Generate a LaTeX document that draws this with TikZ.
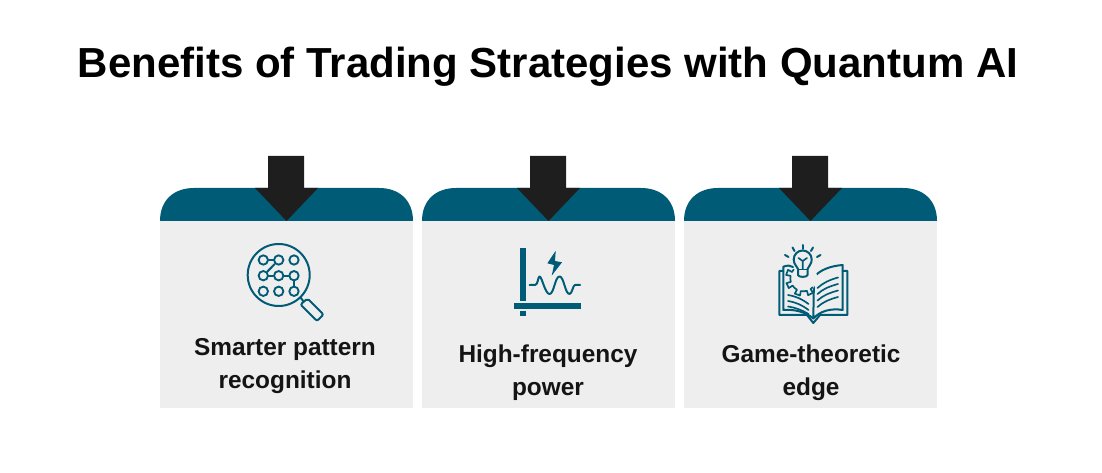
\documentclass[tikz,border=0pt]{standalone}
\usepackage{fontspec}
\setmainfont{Liberation Sans}
\definecolor{teal}{HTML}{005B76}
\definecolor{cardgrey}{HTML}{EEEEEE}
\definecolor{arrowblack}{HTML}{1E1E1E}
\tikzset{
  title/.style={font=\fontsize{31.5}{36}\selectfont\bfseries, text=black, inner sep=0pt},
  label/.style={font=\fontsize{18.3}{24.6}\selectfont\bfseries, text=black!92, align=center, inner sep=0pt},
  icon/.style={draw=teal, line width=1.5pt, line cap=round, line join=round},
  iconthin/.style={draw=teal, line width=1.25pt, line cap=round, line join=round},
  dot/.style={circle, draw=teal, line width=1.4pt, minimum size=7pt, inner sep=0pt, fill=cardgrey}
}
\begin{document}
\begin{tikzpicture}[x=0.75pt,y=-0.75pt]
\useasboundingbox (0,0) rectangle (1102,473);
\node[title] (head) at (548,66.5) {Benefits of Trading Strategies with Quantum AI};
\foreach \x in {160,422,684} {
  \fill[cardgrey] (\x,221) rectangle ++(253,187);
  \fill[teal] (\x,221) .. controls (\x,200) and (\x+14,188) .. (\x+34,188) -- (\x+219,188) .. controls (\x+239,188) and (\x+253,200) .. (\x+253,221) -- cycle;
  \fill[arrowblack] (\x+108,156) -- (\x+144,156) -- (\x+144,188) -- (\x+158,188) -- (\x+126.5,221) -- (\x+95,188) -- (\x+108,188) -- cycle;
}
\node[label] (l1) at (285,366) {Smarter pattern\\recognition};
\node[label] (l2) at (548,373) {High-frequency\\power};
\node[label] (l3) at (811,373) {Game-theoretic\\edge};
% magnifier
\draw[icon] (278.7,275) circle (31);
\draw[icon] (300.5,297.5) -- (303.5,301.5);
\draw[icon, rounded corners=1.5pt] (307.5,298.5) -- (323.5,314.5) -- (317,321) -- (300.5,304.5) -- cycle;
\node[dot] (p00) at (263.3,260) {};
\node[dot] (p10) at (278.7,260) {};
\node[dot] (p20) at (294,260) {};
\node[dot] (p01) at (263.3,275.7) {};
\node[dot] (p11) at (278.7,275.7) {};
\node[dot] (p21) at (294,275.7) {};
\node[dot] (p02) at (263.3,291.3) {};
\node[dot] (p12) at (278.7,291.3) {};
\node[dot] (p22) at (294,291.3) {};
\draw[icon] (p00) -- (p10);
\draw[icon] (p10) -- (p01);
\draw[icon] (p01) -- (p11);
\draw[icon] (p11) -- (p21);
\draw[icon] (p21) -- (p22);
% chart
\fill[teal] (520.3,248.3) rectangle (525.7,301.5);
\fill[teal] (514,303.3) rectangle (581.3,309);
\fill[teal] (520.3,311) rectangle (525.7,315.7);
\fill[teal] (555.7,250.7) -- (547.3,263.3) -- (554,265) -- (551.7,275.7) -- (562,262.3) -- (555,261) -- cycle;
\draw[icon] (529.5,285) -- (535,285) .. controls (538,285) and (538,276.5) .. (539.5,276.5) .. controls (542,276.5) and (545,294) .. (549.5,294) .. controls (554,294) and (555,276.5) .. (559.5,276.5) .. controls (564,276.5) and (565,294) .. (569.5,294) .. controls (572,294) and (573,285) .. (575,285) -- (580,285);
% book
\draw[icon] (813.3,318.5) .. controls (806,312) and (794,309) .. (783.3,310) -- (783.3,266.7) .. controls (788,265) and (790,265.5) .. (793,267);
\draw[icon] (813.3,318.5) .. controls (820,311) and (831,308) .. (842.7,310) -- (842.7,265) .. controls (830,266) and (820,270) .. (814,277) -- (813.3,318.5);
\draw[icon] (783.3,271) -- (779.3,271) -- (779.3,315) -- (807,315) -- (813.3,323) -- (820,315) -- (847.3,315) -- (847.3,271) -- (842.7,271);
\draw[iconthin] (817.5,288) .. controls (823,283) and (829,280) .. (838,277.5);
\draw[iconthin] (817.5,294) .. controls (823,289) and (829,286.5) .. (838,284);
\draw[iconthin] (817.5,300.5) .. controls (823,295.5) and (829,293) .. (838,290.5);
\draw[iconthin] (817.5,307) .. controls (823,302) and (829,299.5) .. (838,297);
\draw[iconthin] (788,295) .. controls (795,296) and (802,299) .. (808.5,304);
\draw[iconthin] (788,301) .. controls (795,302) and (802,305) .. (808.5,310);
\draw[iconthin] (788,306.5) .. controls (795,307.5) and (802,310) .. (808.5,314);
% gear
\fill[cardgrey] (803.3,278.3) circle (14);
\foreach \a in {65,110,155,200} {
  \draw[iconthin] (803.3,278.3) ++(\a-22:13) arc (\a-22:\a-9:13) -- ++(\a-9:4.5) arc (\a-9:\a+9:17.5) -- ++(\a+9:-4.5) arc (\a+9:\a+22:13);
}
\fill[cardgrey] (802.7,260) circle (9) (797,262) rectangle (808,277);
% bulb
\draw[icon] (798,269) .. controls (796.5,265.5) and (793.7,264) .. (793.7,259.5) arc (180:360:9) .. controls (811.7,264) and (809,265.5) .. (807.5,269) -- (807.5,275) .. controls (807.5,277.5) and (798,277.5) .. (798,275) -- cycle;
\draw[iconthin] (798,269.5) -- (807.5,269.5);
\draw[iconthin] (802.7,269) -- (802.7,261) -- (798.5,258);
\draw[iconthin] (802.7,261) -- (807,258);
\draw[icon] (802.7,245) -- (802.7,249);
\draw[icon] (792.5,247.5) -- (794.5,251);
\draw[icon] (813,247.5) -- (811,251);
\draw[icon] (785,255) -- (788.5,257);
\draw[icon] (820.5,255) -- (817,257);
\end{tikzpicture}
\end{document}
